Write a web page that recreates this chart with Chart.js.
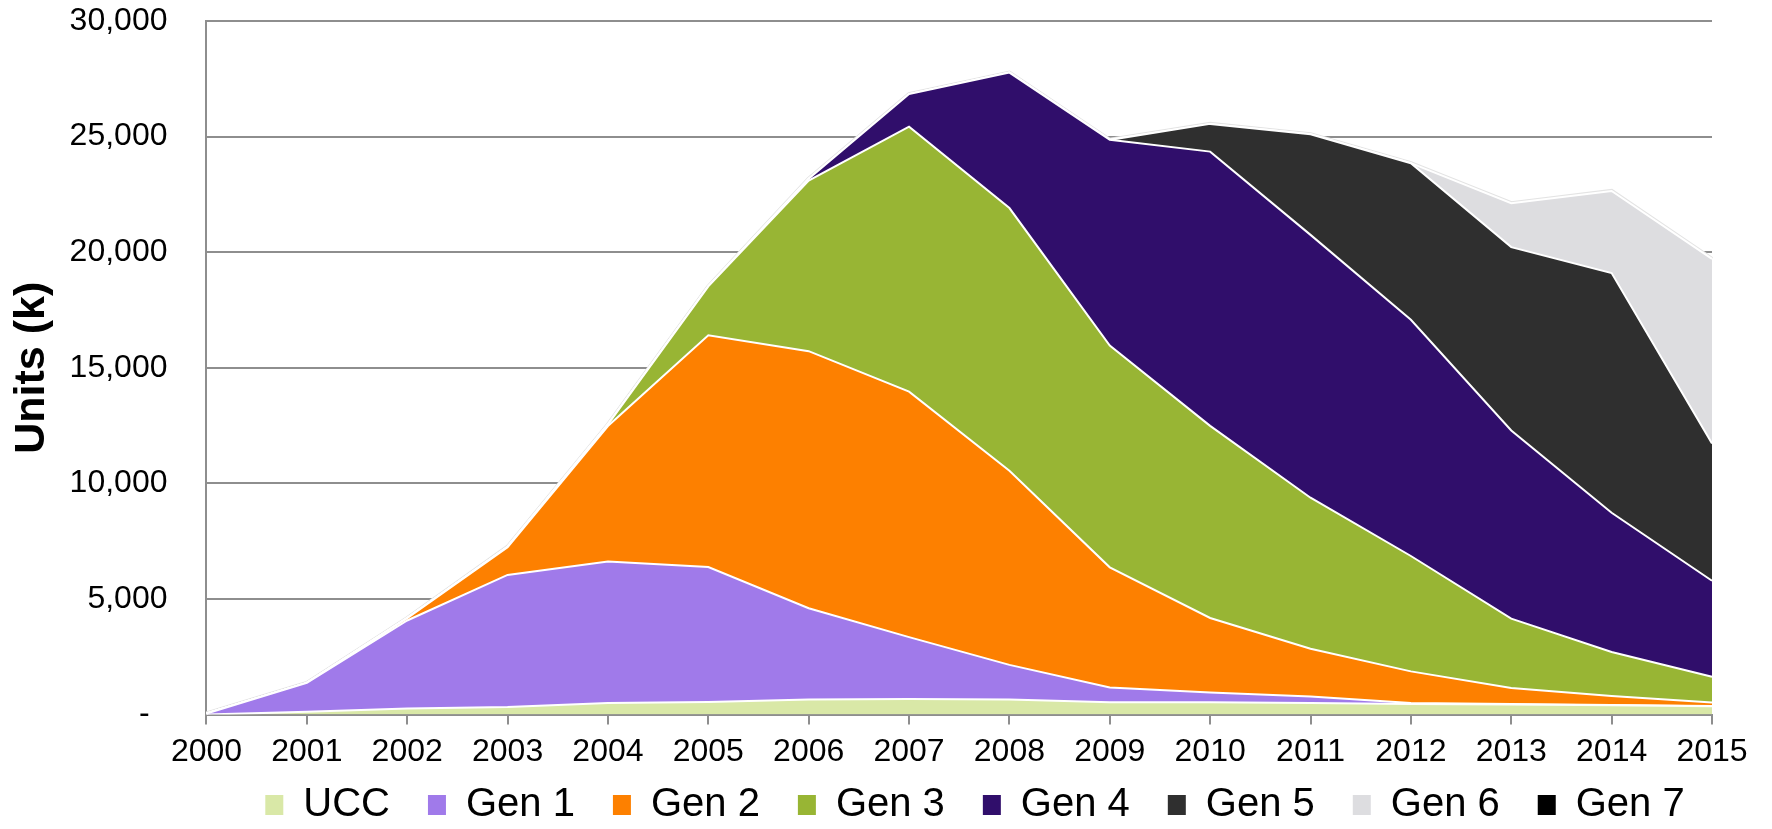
<!DOCTYPE html>
<html>
<head>
<meta charset="utf-8">
<script src="https://cdn.jsdelivr.net/npm/chart.js@4.4.0/dist/chart.umd.min.js"></script>
<style>
  html, body { margin: 0; padding: 0; background: #ffffff; overflow: hidden; }
  #wrap { width: 1772px; height: 829px; position: relative; }
</style>
</head>
<body>
<div id="wrap"><canvas id="c" width="1772" height="829"></canvas></div>
<script>
// ---- data (units in thousands) ----
const years = ['2000','2001','2002','2003','2004','2005','2006','2007','2008','2009','2010','2011','2012','2013','2014','2015'];
const ucc  = [0, 120, 260, 330, 500, 550, 650, 680, 650, 530, 530, 500, 460, 440, 400, 360];
const gen1 = [50, 1250, 3810, 5710, 6120, 5830, 3950, 2670, 1500, 640, 430, 280, 40, 20, 10, 10];
const gen2 = [0, 0, 100, 1200, 5860, 10030, 11120, 10620, 8400, 5200, 3220, 2070, 1370, 690, 390, 150];
const gen3 = [0, 0, 0, 20, 70, 2110, 7380, 11460, 11360, 9590, 8310, 6530, 4990, 3000, 1910, 1120];
const gen4 = [0, 0, 0, 0, 0, 0, 80, 1410, 5860, 8900, 11860, 11370, 10220, 8140, 6020, 4150];
const gen5 = [0, 0, 0, 0, 0, 0, 0, 0, 0, 0, 1200, 4350, 6770, 7930, 10370, 5940];
const gen6 = [0, 0, 0, 0, 0, 0, 0, 0, 0, 0, 0, 0, 0, 1900, 3550, 7980];
const gen7 = [0, 0, 0, 0, 0, 0, 0, 0, 0, 0, 0, 0, 0, 0, 0, 0];

const seriesNames  = ['UCC', 'Gen 1', 'Gen 2', 'Gen 3', 'Gen 4', 'Gen 5', 'Gen 6', 'Gen 7'];
const seriesValues = [ucc, gen1, gen2, gen3, gen4, gen5, gen6, gen7];
const seriesColors = ['#d9e8a7', '#a07aea', '#fd8000', '#98b534', '#300e6b', '#2f2f2f', '#dddde0', '#000000'];

const yTickValues = [0, 5000, 10000, 15000, 20000, 25000, 30000];
const yTickLabels = ['-  ', '5,000', '10,000', '15,000', '20,000', '25,000', '30,000'];

const FONT = 'Liberation Sans, Arial, sans-serif';
const GRID = '#8e8e8e';

const datasets = seriesNames.map((name, i) => {
  const last = i === seriesNames.length - 1;
  return {
    label: name,
    data: seriesValues[i],
    backgroundColor: seriesColors[i],
    borderColor: last ? '#e4e4e4' : '#ffffff',
    borderWidth: last ? 4 : 2,
    pointRadius: 0,
    pointHoverRadius: 0,
    tension: 0,
    fill: i === 0 ? 'origin' : '-1'
  };
});

const legendNudge = {
  id: 'legendNudge',
  afterLayout(chart) {
    const l = chart.legend;
    if (!l) return;
    const DX = 119, DY = -32;
    l.left += DX; l.right += DX; l.top += DY;
  }
};

new Chart(document.getElementById('c'), {
  type: 'line',
  data: { labels: years, datasets },
  plugins: [legendNudge],
  options: {
    responsive: false,
    animation: false,
    devicePixelRatio: 1,
    layout: { padding: { top: 21, right: 60, bottom: 0, left: 0 } },
    scales: {
      x: {
        type: 'category',
        offset: false,
        grid: { display: true, drawOnChartArea: false, drawTicks: true, tickLength: 10, color: GRID, lineWidth: 2 },
        border: { display: true, color: GRID, width: 2 },
        ticks: { padding: 8, color: '#000', maxRotation: 0, autoSkip: false, font: { family: FONT, size: 32 } }
      },
      y: {
        stacked: true,
        min: 0,
        max: 30000,
        afterBuildTicks: (axis) => { axis.ticks = yTickValues.map(v => ({ value: v })); },
        grid: { color: GRID, lineWidth: 2, drawTicks: true, tickLength: 39, tickColor: 'rgba(0,0,0,0)' },
        border: { display: true, color: GRID, width: 2 },
        ticks: {
          padding: 0,
          color: '#000',
          font: { family: FONT, size: 32 },
          callback: (v) => { const k = yTickValues.indexOf(v); return k >= 0 ? yTickLabels[k] : ''; }
        },
        title: {
          display: true,
          text: 'Units (k)',
          color: '#000',
          font: { family: FONT, size: 43, weight: 'bold' },
          padding: { top: 6, bottom: 12 }
        }
      }
    },
    plugins: {
      legend: {
        display: true,
        position: 'bottom',
        maxHeight: 50,
        labels: {
          boxWidth: 18,
          boxHeight: 20,
          padding: 38,
          color: '#000',
          font: { family: FONT, size: 40 },
          generateLabels(chart) {
            const items = Chart.defaults.plugins.legend.labels.generateLabels(chart);
            items.forEach(it => { it.lineWidth = 0; it.strokeStyle = it.fillStyle; });
            return items;
          }
        }
      },
      tooltip: { enabled: false }
    }
  }
});
</script>
</body>
</html>
